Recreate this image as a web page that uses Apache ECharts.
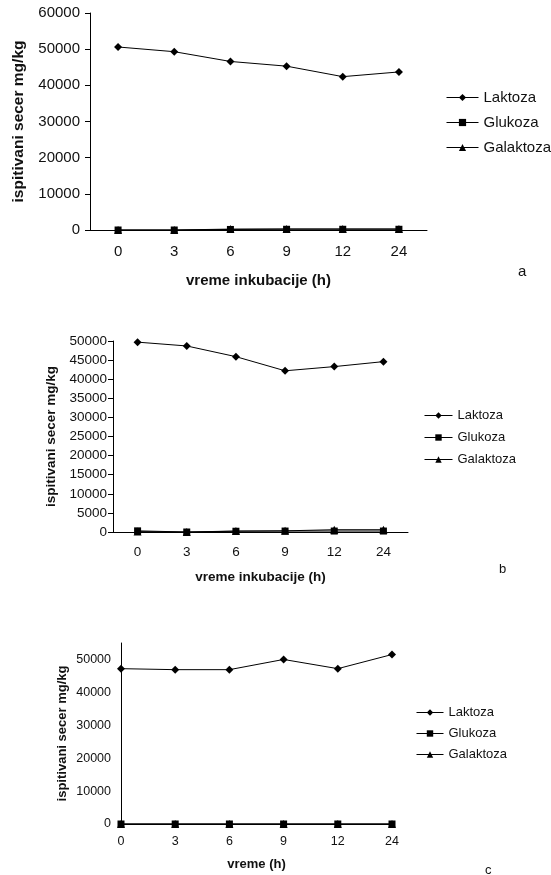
<!DOCTYPE html>
<html lang="sr">
<head>
    <meta charset="UTF-8">
    <title>Ispitivani secer mg/kg</title>
    <script src="https://cdn.jsdelivr.net/npm/echarts@6/dist/echarts.min.js"></script>
    <style>
        html, body { margin: 0; padding: 0; background: #fff; }
        #chart { width: 551px; height: 875px; }
    </style>
</head>
<body>
    <div id="chart"></div>
    <script>
        // vreme (h)
        var hours = ['0', '3', '6', '9', '12', '24'];
        var seriesNames = ['Laktoza', 'Glukoza', 'Galaktoza'];
        var symbols = ['diamond', 'rect', 'triangle'];
        var panelLetters = ['a', 'b', 'c'];

        // panel a
        var laktozaA = [50600, 49300, 46600, 45300, 42400, 43700];
        var glukozaA = [0, 0, 150, 200, 200, 200];
        var galaktozaA = [0, 0, 250, 300, 300, 300];
        // panel b
        var laktozaB = [49700, 48700, 45900, 42200, 43300, 44600];
        var glukozaB = [300, 0, 200, 250, 250, 250];
        var galaktozaB = [100, 0, 250, 300, 600, 600];
        // panel c
        var laktozaC = [47200, 46900, 46900, 50000, 47200, 51500];
        var glukozaC = [0, 0, 0, 0, 0, 0];
        var galaktozaC = [0, 0, 0, 0, 0, 0];

        var panelData = [
            [laktozaA, glukozaA, galaktozaA],
            [laktozaB, glukozaB, galaktozaB],
            [laktozaC, glukozaC, galaktozaC]
        ];

        var font = 'Liberation Sans, Arial, sans-serif';
        var black = '#000';
        var plain = function (v) { return String(v); };

        var chart = echarts.init(document.getElementById('chart'));

        function lineSeries(name, symbol, data, idx) {
            return {
                name: name,
                type: 'line',
                xAxisIndex: idx,
                yAxisIndex: idx,
                data: data,
                symbol: symbol,
                symbolSize: symbol === 'rect' ? 7 : 8,
                itemStyle: { color: black },
                lineStyle: { color: black, width: 1 },
                animation: false
            };
        }

        var series = [];
        panelData.forEach(function (arr, p) {
            arr.forEach(function (d, i) {
                series.push(lineSeries(seriesNames[i], symbols[i], d, p));
            });
        });

        var option = {
            animation: false,
            backgroundColor: '#fff',
            textStyle: { fontFamily: font, color: '#111' },
            grid: [
                { left: 90, top: 13, width: 337, height: 217 },
                { left: 113, top: 341, width: 295, height: 191 },
                { left: 121, top: 643, width: 271, height: 181 }
            ],
            xAxis: [
                {
                    gridIndex: 0, type: 'category', data: hours,
                    name: 'vreme inkubacije (h)', nameLocation: 'middle', nameGap: 43,
                    nameTextStyle: { fontWeight: 'bold', fontSize: 15, color: '#111' },
                    axisLine: { lineStyle: { color: black } },
                    axisTick: { length: 5, lineStyle: { color: black } },
                    axisLabel: { fontSize: 15, color: '#111', margin: 14 }
                },
                {
                    gridIndex: 1, type: 'category', data: hours,
                    name: 'vreme inkubacije (h)', nameLocation: 'middle', nameGap: 38,
                    nameTextStyle: { fontWeight: 'bold', fontSize: 13.5, color: '#111' },
                    axisLine: { lineStyle: { color: black } },
                    axisTick: { length: 5, lineStyle: { color: black } },
                    axisLabel: { fontSize: 13.5, color: '#111', margin: 13 }
                },
                {
                    gridIndex: 2, type: 'category', data: hours, boundaryGap: false,
                    name: 'vreme (h)', nameLocation: 'middle', nameGap: 34,
                    nameTextStyle: { fontWeight: 'bold', fontSize: 13, color: '#111' },
                    axisLine: { lineStyle: { color: black } },
                    axisTick: { show: false },
                    axisLabel: { fontSize: 12.5, color: '#111', margin: 11 }
                }
            ],
            yAxis: [
                {
                    gridIndex: 0, type: 'value', min: 0, max: 60000, interval: 10000,
                    name: 'ispitivani secer mg/kg', nameLocation: 'middle', nameGap: 63,
                    nameTextStyle: { fontWeight: 'bold', fontSize: 15.5, color: '#111' },
                    axisLine: { show: true, lineStyle: { color: black } },
                    axisTick: { show: true, length: 5, lineStyle: { color: black } },
                    axisLabel: { fontSize: 15, color: '#111', margin: 10, formatter: plain },
                    splitLine: { show: false }
                },
                {
                    gridIndex: 1, type: 'value', min: 0, max: 50000, interval: 5000,
                    name: 'ispitivani secer mg/kg', nameLocation: 'middle', nameGap: 55,
                    nameTextStyle: { fontWeight: 'bold', fontSize: 13.5, color: '#111' },
                    axisLine: { show: true, lineStyle: { color: black } },
                    axisTick: { show: true, length: 5, lineStyle: { color: black } },
                    axisLabel: { fontSize: 13.5, color: '#111', margin: 6, formatter: plain },
                    splitLine: { show: false }
                },
                {
                    gridIndex: 2, type: 'value', min: 0, max: 55000, interval: 10000,
                    name: 'ispitivani secer mg/kg', nameLocation: 'middle', nameGap: 52,
                    nameTextStyle: { fontWeight: 'bold', fontSize: 13, color: '#111' },
                    axisLine: { show: true, lineStyle: { color: black } },
                    axisTick: { show: false },
                    axisLabel: { fontSize: 12.5, color: '#111', margin: 10, showMaxLabel: false, formatter: plain },
                    splitLine: { show: false }
                }
            ],
            legend: [
                {
                    orient: 'vertical', left: 446, top: 90, padding: 0, data: seriesNames,
                    itemWidth: 32, itemHeight: 9, itemGap: 10,
                    lineStyle: { width: 1 },
                    textStyle: { fontSize: 15, color: '#111' },
                    selectedMode: false
                },
                {
                    orient: 'vertical', left: 424, top: 409, padding: 0, data: seriesNames,
                    itemWidth: 28, itemHeight: 8, itemGap: 9,
                    lineStyle: { width: 1 },
                    textStyle: { fontSize: 13, color: '#111' },
                    selectedMode: false
                },
                {
                    orient: 'vertical', left: 416, top: 706, padding: 0, data: seriesNames,
                    itemWidth: 27, itemHeight: 8, itemGap: 8,
                    lineStyle: { width: 1 },
                    textStyle: { fontSize: 13, color: '#111' },
                    selectedMode: false
                }
            ],
            graphic: [
                { type: 'text', left: 518, top: 264, style: { text: panelLetters[0], font: '15px ' + font, fill: '#111' } },
                { type: 'text', left: 499, top: 563, style: { text: panelLetters[1], font: '13px ' + font, fill: '#111' } },
                { type: 'text', left: 485, top: 864, style: { text: panelLetters[2], font: '13px ' + font, fill: '#111' } }
            ],
            series: series
        };

        chart.setOption(option);
    </script>
</body>
</html>
